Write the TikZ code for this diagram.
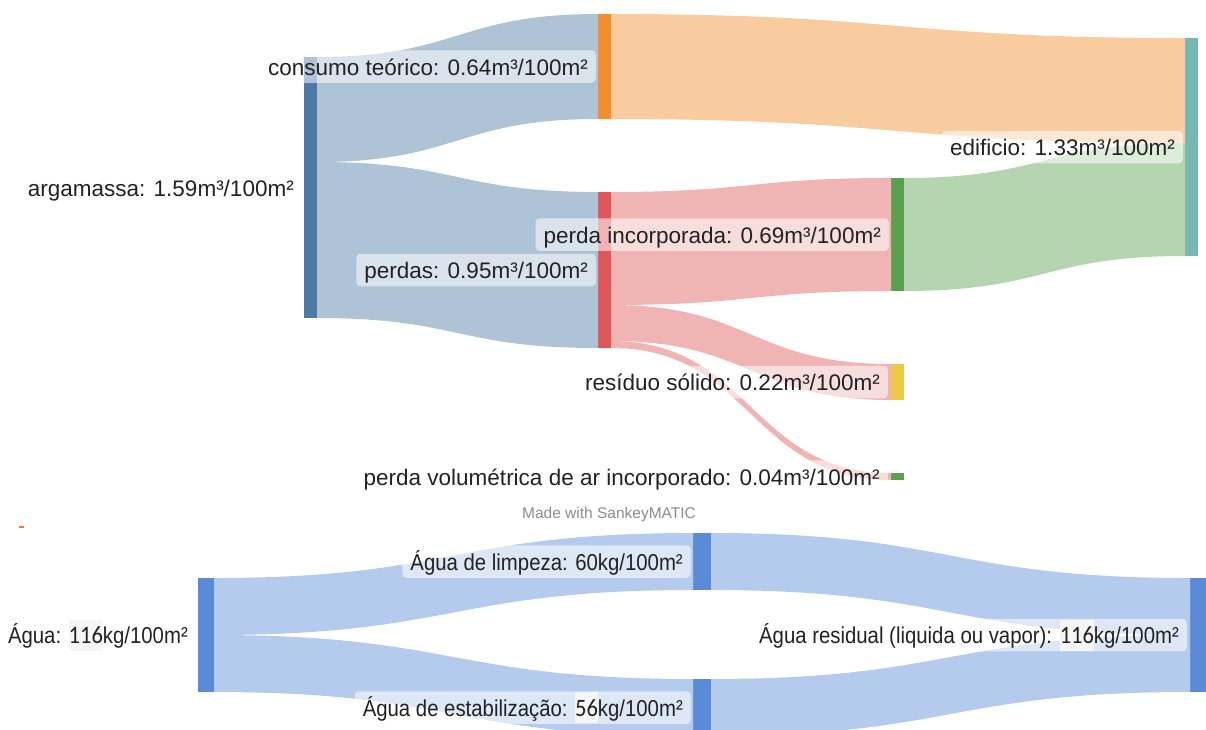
\documentclass[tikz,border=0pt]{standalone}
\usepackage{fontspec}
\setmainfont{Liberation Sans}
\newfontfamily\narrowsans[FakeStretch=0.885]{Liberation Sans}
\newfontfamily\numfont[FakeStretch=0.9]{Carlito}
\usetikzlibrary{calc,positioning}

\definecolor{argblue}{HTML}{4E79A7}
\definecolor{consorange}{HTML}{F28E2B}
\definecolor{perdred}{HTML}{E15759}
\definecolor{pincgreen}{HTML}{59A14F}
\definecolor{edifteal}{HTML}{76B7B2}
\definecolor{residyellow}{HTML}{EDC948}
\definecolor{waterblue}{HTML}{5B8BD7}
\definecolor{hlgray}{HTML}{F6F6F6}
\definecolor{inkblack}{HTML}{222222}
\definecolor{creditgray}{HTML}{8C8C8C}
\definecolor{markorange}{HTML}{F07A30}

% highlighted number inside a label
\newcommand\hlnum[1]{{\setlength\fboxsep{0pt}\colorbox{hlgray}{\rule[-7pt]{0pt}{31pt}\fontsize{25pt}{27pt}\numfont #1}}}

% Sankey band: source, offset at source, target, offset at target, thickness, colour
\newcommand\band[6]{%
  \fill[#6!45!white] let \p1=(#1.north east), \p2=(#3.north west), \n1={(\x1+\x2)/2} in
    (\x1,\y1-#2pt) .. controls (\n1,\y1-#2pt) and (\n1,\y2-#4pt) .. (\x2,\y2-#4pt)
    -- (\x2,\y2-#4pt-#5pt) .. controls (\n1,\y2-#4pt-#5pt) and (\n1,\y1-#2pt-#5pt) .. (\x1,\y1-#2pt-#5pt)
    -- cycle;}

\tikzset{
  bar/.style={rectangle, draw=none, fill=#1, inner sep=0pt, outer sep=0pt,
    minimum width=13pt, anchor=north west},
  lbl/.style={fill=white, fill opacity=0.55, text opacity=1, text=inkblack,
    rounded corners=4pt, inner xsep=8pt, inner ysep=4.5pt,
    text height=20.5pt, text depth=3pt,
    font=\fontsize{22.5pt}{27pt}\selectfont},
  wlbl/.style={lbl, font=\narrowsans\fontsize{23pt}{27pt}\selectfont},
}

\begin{document}
\begin{tikzpicture}[x=1pt,y=-1pt]
\clip (0,0) rectangle (1206,729);
\fill[white] (0,0) rectangle (1206,729);

% ---- mortar balance: bars ----
\node[bar=argblue, minimum height=261pt] (arg) at (304,57) {};
\node[bar=consorange, minimum height=105pt] (cons) at (598,14) {};
\node[bar=perdred, minimum height=156pt] (perd) at (598,192) {};
\node[bar=pincgreen, minimum height=113pt] (pinc) at (891,178) {};
\node[bar=edifteal, minimum height=218pt] (edif) at (1185,38) {};
\node[bar=residyellow, minimum height=36pt] (resid) at (891,364) {};
\node[bar=pincgreen, minimum height=7pt] (ar) at (891,473) {};

% ---- mortar balance: bands ----
\band{arg}{0}{cons}{0}{105}{argblue}
\band{arg}{105}{perd}{0}{156}{argblue}
\band{cons}{0}{edif}{0}{105}{consorange}
\band{perd}{0}{pinc}{0}{113}{perdred}
\band{perd}{113}{resid}{0}{36}{perdred}
\band{perd}{149}{ar}{0}{7}{perdred}
\band{pinc}{0}{edif}{105}{113}{pincgreen}

% ---- water balance: bars ----
\node[bar=waterblue, minimum width=16pt, minimum height=114pt] (agua) at (198,578) {};
\node[bar=waterblue, minimum width=18pt, minimum height=57pt] (limp) at (693,533) {};
\node[bar=waterblue, minimum width=18pt, minimum height=57pt] (estab) at (693,679) {};
\node[bar=waterblue, minimum width=16pt, minimum height=114pt] (resw) at (1190,578) {};

% ---- water balance: bands ----
\band{agua}{0}{limp}{0}{57}{waterblue}
\band{agua}{57}{estab}{0}{57}{waterblue}
\band{limp}{0}{resw}{0}{57}{waterblue}
\band{estab}{0}{resw}{57}{57}{waterblue}

% ---- labels ----
\node[lbl, left=2pt of arg] (larg) {argamassa: 1.59m³/100m²};
\node[lbl, left=2pt of cons] (lcons) {consumo teórico: 0.64m³/100m²};
\node[lbl, left=2pt of perd] (lperd) {perdas: 0.95m³/100m²};
\node[lbl, left=2pt of pinc] (lpinc) {perda incorporada: 0.69m³/100m²};
\node[lbl, left=2pt of edif] (ledif) {edificio: 1.33m³/100m²};
\node[lbl, left=3pt of resid] (lresid) {resíduo sólido: 0.22m³/100m²};
\node[lbl, left=3pt of ar] (lar) {perda volumétrica de ar incorporado: 0.04m³/100m²};

\node[text=creditgray, font=\fontsize{15.5pt}{18pt}\selectfont] (credit) at (609,514) {Made with SankeyMATIC};

\node[wlbl, left=2pt of agua] (lagua) {Água: \hlnum{116}kg/100m²};
\node[wlbl, left=2pt of limp] (llimp) {Água de limpeza: 60kg/100m²};
\node[wlbl, left=2pt of estab] (lestab) {Água de estabilização: \hlnum{56}kg/100m²};
\node[wlbl, left=3pt of resw] (lresw) {Água residual (liquida ou vapor): \hlnum{116}kg/100m²};

% small orange mark at the left edge
\fill[markorange] (19,526) rectangle (24,528);
\end{tikzpicture}
\end{document}
